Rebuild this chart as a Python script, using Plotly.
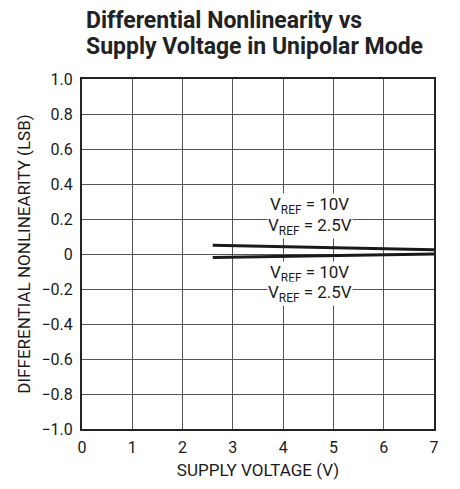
import plotly.graph_objects as go

x_vals = [2.6, 7.0]
dnl_10v = [0.05, 0.025]
dnl_25v = [-0.02, 0.0]
x_ticks = [0, 1, 2, 3, 4, 5, 6, 7]
y_ticks = [-1.0, -0.8, -0.6, -0.4, -0.2, 0, 0.2, 0.4, 0.6, 0.8, 1.0]
y_tick_text = ["\u22121.0", "\u22120.8", "\u22120.6", "\u22120.4", "\u22120.2", "0", "0.2", "0.4", "0.6", "0.8", "1.0"]

FONT = "Roboto, sans-serif"

fig = go.Figure()
fig.add_trace(go.Scatter(x=x_vals, y=dnl_10v, mode="lines", line=dict(color="#1a1a1a", width=3), showlegend=False))
fig.add_trace(go.Scatter(x=x_vals, y=dnl_25v, mode="lines", line=dict(color="#1a1a1a", width=3), showlegend=False))

labels = [
    (4.53, 0.275, "V<sub>REF</sub> = 10V"),
    (4.53, 0.16, "V<sub>REF</sub> = 2.5V"),
    (4.53, -0.11, "V<sub>REF</sub> = 10V"),
    (4.53, -0.225, "V<sub>REF</sub> = 2.5V"),
]
for lx, ly, txt in labels:
    fig.add_annotation(x=lx, y=ly, text=txt, showarrow=False, bgcolor="white",
                       font=dict(family=FONT, size=17, color="#1a1a1a"), borderpad=0)

title_lines = [(1.167, "<b>Differential Nonlinearity vs</b>"),
               (1.092, "<b>Supply Voltage in Unipolar Mode</b>")]
for ty, txt in title_lines:
    fig.add_annotation(x=0.006, y=ty, xref="paper", yref="paper", xanchor="left", yanchor="middle",
                       text=txt, showarrow=False, font=dict(family=FONT, size=23, color="#222"))

fig.update_layout(
    width=452, height=481,
    margin=dict(l=74, r=26, t=71, b=57),
    paper_bgcolor="white", plot_bgcolor="white",
    font=dict(family=FONT, color="#1a1a1a"),
)
fig.update_xaxes(range=[0, 7], tickvals=x_ticks, showgrid=True, gridcolor="#555", gridwidth=1,
                 showline=True, linecolor="#222", linewidth=2, mirror=True, zeroline=False,
                 ticks="", tickfont=dict(size=16), ticklabelstandoff=3,
                 title=dict(text="SUPPLY VOLTAGE (V)", font=dict(size=17), standoff=8))
fig.update_yaxes(range=[-1, 1], tickvals=y_ticks, ticktext=y_tick_text, showgrid=True, gridcolor="#555", gridwidth=1,
                 showline=True, linecolor="#222", linewidth=2, mirror=True, zeroline=False,
                 ticks="", tickfont=dict(size=16), ticklabelstandoff=4,
                 title=dict(text="DIFFERENTIAL NONLINEARITY (LSB)", font=dict(size=17), standoff=6))

fig.write_html("out.html")
